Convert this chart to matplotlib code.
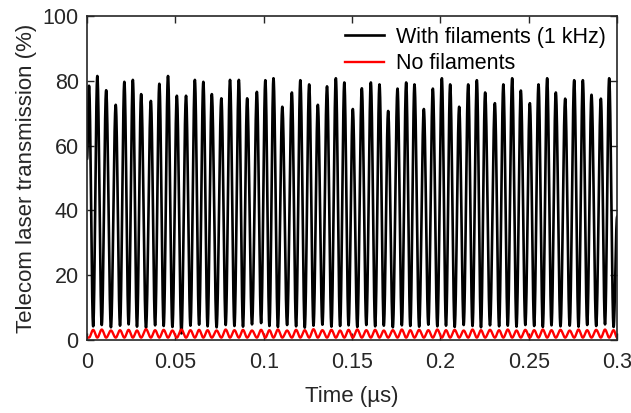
import matplotlib
matplotlib.use("Agg")
import matplotlib.pyplot as plt
import numpy as np

plt.rcParams['font.family'] = ['Liberation Sans', 'DejaVu Sans']

# times of the black peaks (us)
peak_t = [0.0011, 0.0058, 0.0108, 0.0162, 0.0211, 0.0259, 0.0306, 0.0361, 0.0409, 0.0458,
          0.0508, 0.0560, 0.0610, 0.0658, 0.0706, 0.0760, 0.0809, 0.0859, 0.0906, 0.0961,
          0.1009, 0.1055, 0.1105, 0.1159, 0.1207, 0.1257, 0.1306, 0.1358, 0.1408, 0.1456,
          0.1504, 0.1555, 0.1606, 0.1655, 0.1704, 0.1757, 0.1806, 0.1853, 0.1906, 0.1957,
          0.2008, 0.2055, 0.2106, 0.2157, 0.2206, 0.2253, 0.2308, 0.2356, 0.2406, 0.2455,
          0.2506, 0.2555, 0.2604, 0.2653, 0.2706, 0.2757, 0.2806, 0.2855, 0.2908, 0.2955]

# black peak heights (%)
peak_fil = [78.5, 81.5, 77.1, 72.6, 79.7, 80.3, 75.9, 73.8, 79.1, 81.5,
            75.4, 75.4, 80.3, 79.7, 75.9, 74.6, 80.3, 80.3, 74.6, 76.6,
            80.2, 80.8, 72.0, 76.4, 80.2, 78.9, 72.6, 78.3, 80.8, 79.5,
            71.3, 77.7, 79.5, 78.9, 70.7, 77.6, 79.5, 78.9, 71.3, 77.6,
            80.8, 78.9, 72.0, 78.9, 80.2, 76.4, 73.1, 78.9, 80.8, 77.0,
            73.1, 78.9, 80.8, 76.4, 74.5, 80.2, 80.2, 75.7, 74.5, 80.8]

# black trough values after each peak (%)
trough_fil = [4.2, 4.6, 3.9, 4.4, 4.8, 4.1, 3.8, 4.5, 4.3, 4.0,
              2.0, 4.4, 4.7, 4.2, 3.9, 4.6, 4.3, 4.1, 4.8, 5.2,
              4.3, 4.0, 4.6, 4.2, 3.8, 4.4, 4.7, 4.1, 4.3, 4.5,
              4.0, 4.6, 4.2, 4.4, 3.9, 4.5, 4.3, 4.1, 4.7, 4.2,
              4.4, 4.0, 4.6, 4.3, 3.9, 4.5, 4.2, 4.4, 4.1, 4.6,
              4.3, 4.0, 4.5, 4.2, 4.4, 4.1, 4.6, 4.3, 4.8, 4.0]
start_fil = 56.0
end_fil = 38.0

# red (no filaments) peak and trough values (%)
peak_nofil = [3.1, 3.2, 2.9, 3.0, 3.1, 2.9, 3.3, 3.0, 3.1, 2.9,
              3.2, 3.0, 3.1, 3.0, 2.9, 3.2, 3.0, 3.1, 2.9, 3.1,
              3.0, 3.2, 2.9, 3.1, 3.0, 3.3, 3.0, 3.1, 2.9, 3.1,
              3.2, 3.0, 3.1, 2.9, 3.0, 3.2, 3.0, 3.1, 3.0, 3.2,
              3.0, 3.1, 2.9, 3.2, 3.0, 3.1, 3.0, 3.2, 2.9, 3.1,
              3.0, 3.2, 3.0, 3.1, 2.9, 3.2, 3.0, 3.1, 3.2, 3.0]
trough_nofil = 0.7

t_end = 0.3
trough_t = [(a + b) / 2 for a, b in zip(peak_t[:-1], peak_t[1:])] + [peak_t[-1] + 0.0025]


def smooth(tk, vk, n=40):
    # cosine steps between successive extremes
    ts, vs = [], []
    for i in range(len(tk) - 1):
        s = np.linspace(0, 1, n, endpoint=False)
        w = (1 - np.cos(np.pi * s)) / 2
        ts.append(tk[i] + (tk[i + 1] - tk[i]) * s)
        vs.append(vk[i] + (vk[i + 1] - vk[i]) * w)
    ts.append([tk[-1]])
    vs.append([vk[-1]])
    return np.concatenate(ts), np.concatenate(vs)


tk_f = [0.0]
vk_f = [start_fil]
for pt, pv, tt, tv in zip(peak_t, peak_fil, trough_t, trough_fil):
    tk_f += [pt, tt]
    vk_f += [pv, tv]
tk_f.append(t_end)
vk_f.append(end_fil)
x_f, y_f = smooth(tk_f, vk_f)

tk_n = [0.0]
vk_n = [trough_nofil]
for pt, tt, rv in zip(peak_t, trough_t, peak_nofil):
    tk_n += [pt, tt]
    vk_n += [trough_nofil, rv]
tk_n.append(t_end)
vk_n.append(trough_nofil)
x_n, y_n = smooth(tk_n, vk_n)

fig = plt.figure(figsize=(6.31, 4.13), dpi=100)
ax = fig.add_axes([0.138, 0.177, 0.840, 0.784])
ax.plot(x_f, y_f, color='black', lw=1.9, label='With filaments (1 kHz)')
ax.plot(x_n, y_n, color='red', lw=1.7, label='No filaments')

ax.set_xlim(0, 0.3)
ax.set_ylim(0, 100)
xticks = [0, 0.05, 0.1, 0.15, 0.2, 0.25, 0.3]
xticklabels = ['0', '0.05', '0.1', '0.15', '0.2', '0.25', '0.3']
ax.set_xticks(xticks)
ax.set_xticklabels(xticklabels)
ax.set_yticks([0, 20, 40, 60, 80, 100])
ax.tick_params(direction='in', top=True, right=True, length=5, width=1.0,
               labelsize=15.5, colors='#262626')
ax.tick_params(axis='x', pad=9)
ax.tick_params(axis='y', pad=6)
for s in ax.spines.values():
    s.set_color('#262626')
    s.set_linewidth(1.2)

ax.set_xlabel('Time (µs)', fontsize=16, color='#262626', labelpad=9)
ax.set_ylabel('Telecom laser transmission (%)', fontsize=16, color='#262626', labelpad=4)

ax.legend(loc='upper right', frameon=False, fontsize=15.5, handlelength=1.8,
          handletextpad=0.6, borderaxespad=0.1, labelspacing=0.25)

fig.savefig('out.png', dpi=100)
